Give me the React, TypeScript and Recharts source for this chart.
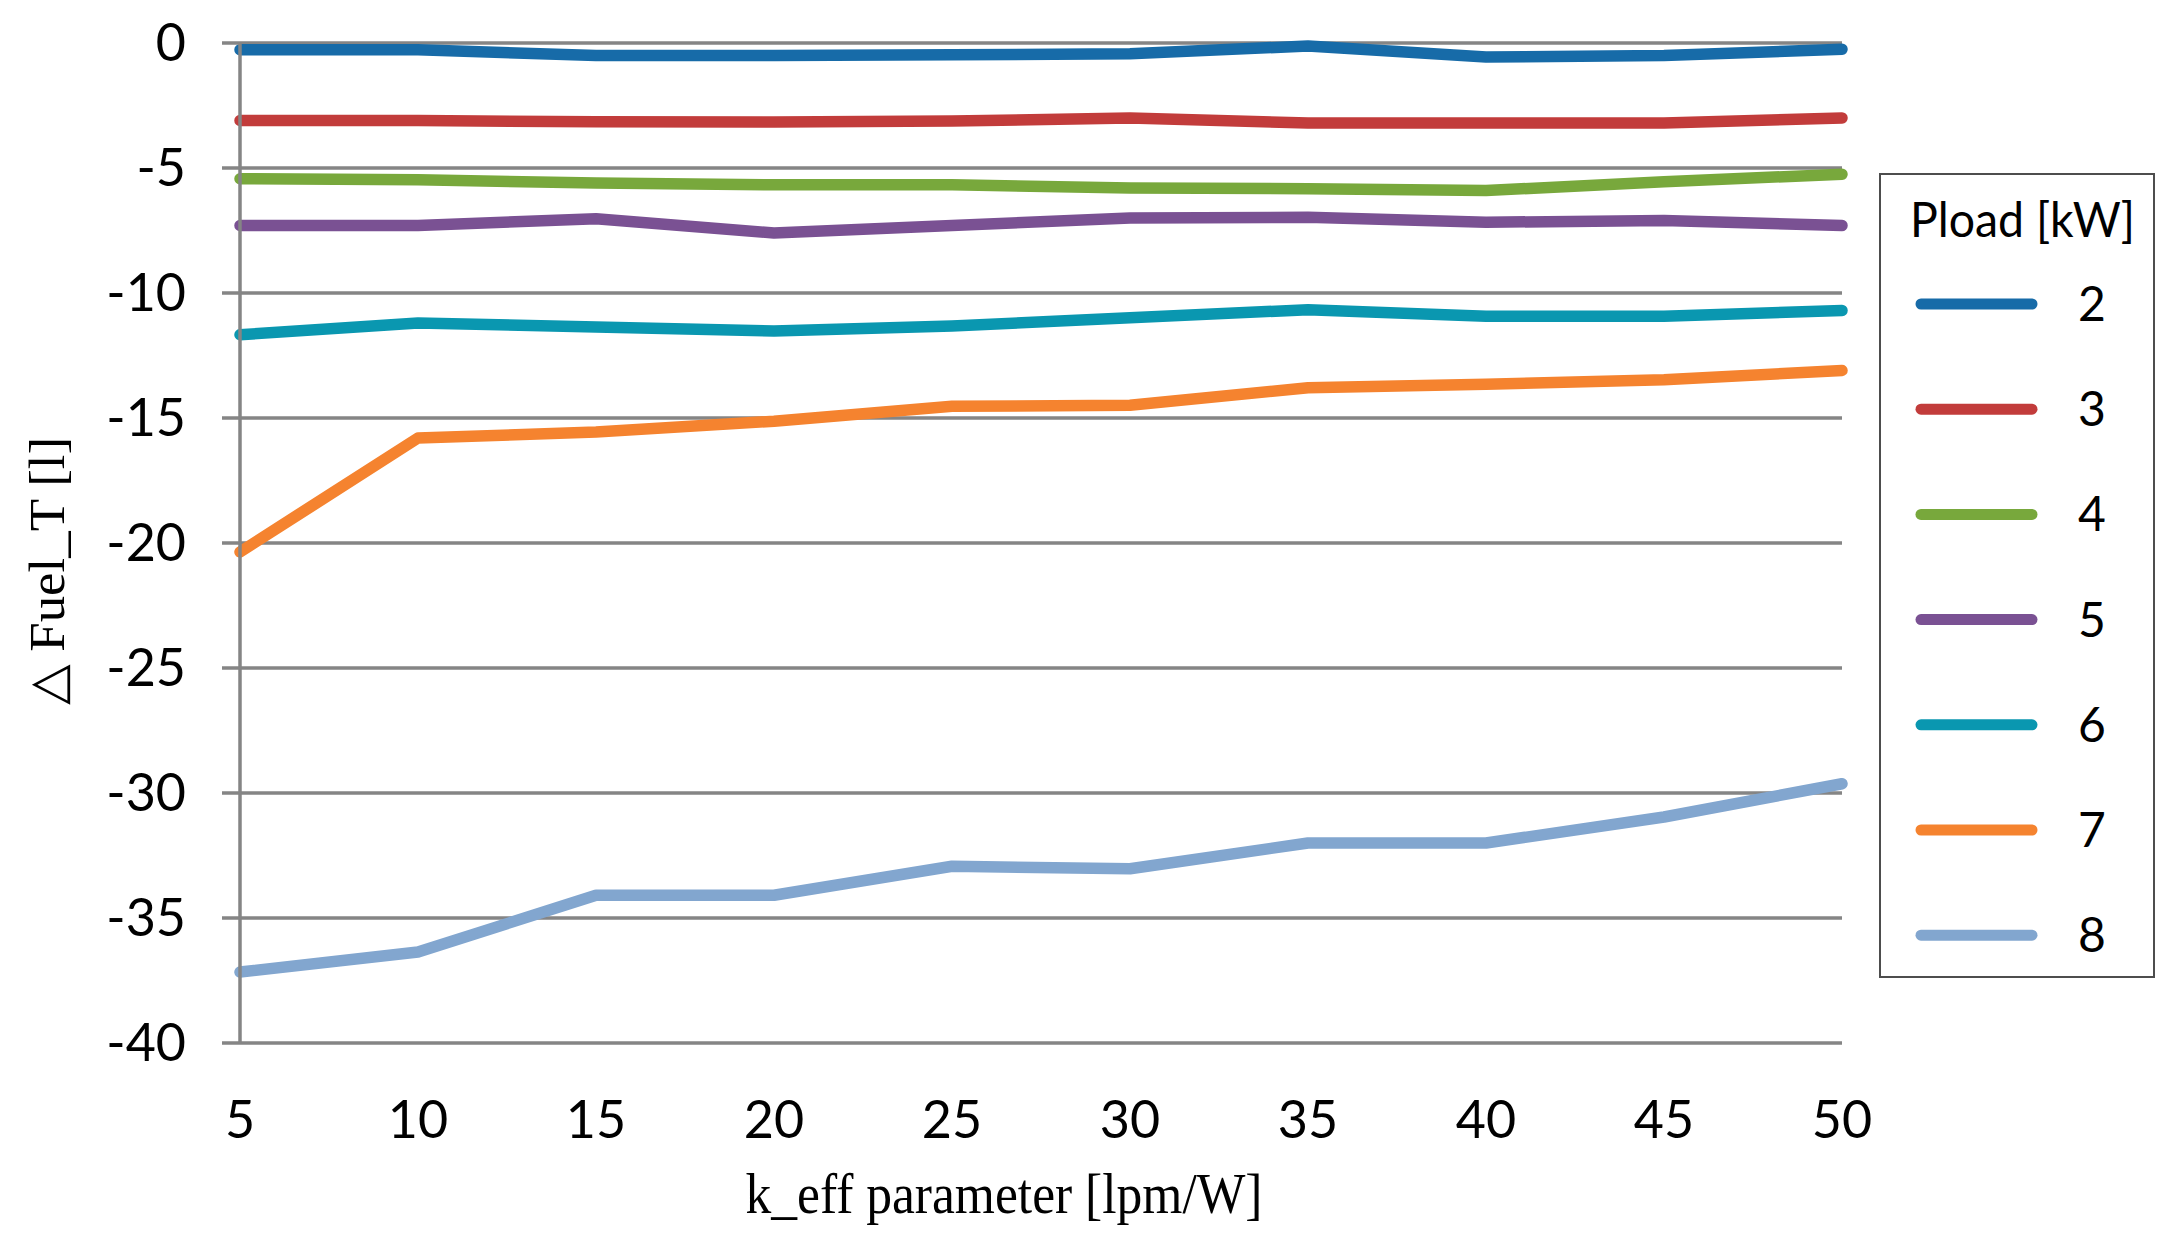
import React from 'react';
import { LineChart, Line, XAxis, YAxis, CartesianGrid, Legend, Label } from 'recharts';

const kValues = [5, 10, 15, 20, 25, 30, 35, 40, 45, 50];
const yTicks = [0, -5, -10, -15, -20, -25, -30, -35, -40];

const p2 = [-0.27, -0.27, -0.5, -0.5, -0.47, -0.43, -0.12, -0.56, -0.5, -0.25];
const p3 = [-3.1, -3.1, -3.15, -3.16, -3.12, -3.0, -3.2, -3.2, -3.2, -3.0];
const p4 = [-5.43, -5.47, -5.6, -5.67, -5.67, -5.8, -5.83, -5.9, -5.55, -5.25];
const p5 = [-7.3, -7.3, -7.03, -7.6, -7.3, -7.0, -6.97, -7.17, -7.1, -7.3];
const p6 = [-11.67, -11.2, -11.36, -11.52, -11.32, -10.99, -10.67, -10.93, -10.93, -10.7];
const p7 = [-20.36, -15.8, -15.56, -15.13, -14.53, -14.49, -13.79, -13.65, -13.47, -13.1];
const p8 = [-37.16, -36.36, -34.09, -34.09, -32.93, -33.03, -32.0, -32.0, -30.96, -29.63];

const seriesNames = ['2', '3', '4', '5', '6', '7', '8'];
const seriesValues = [p2, p3, p4, p5, p6, p7, p8];
const seriesColors = ['#176ba8', '#c23c3b', '#78a83c', '#7a5193', '#0a97b0', '#f5832f', '#82a6cf'];

const data = kValues.map((k, i) => {
  const row: Record<string, number> = { k };
  seriesNames.forEach((n, j) => {
    row['s' + n] = seriesValues[j][i];
  });
  return row;
});

const GRID = '#858585';
const SANS = 'Lato, "Open Sans", sans-serif';
const SERIF = '"Liberation Serif", "Times New Roman", serif';

const XTick = (props: any) => {
  const { x, y, payload } = props;
  return (
    <text x={x} y={y + 95} textAnchor="middle" fontFamily={SANS} fontSize={52} fill="#000">
      {payload.value}
    </text>
  );
};

const YTick = (props: any) => {
  const { x, y, payload } = props;
  return (
    <text x={x} y={y + 18} textAnchor="end" fontFamily={SANS} fontSize={52} fill="#000">
      {payload.value}
    </text>
  );
};

const XTitle = (props: any) => {
  const vb = props.viewBox || {};
  const cx = vb.x + vb.width / 2 - 37;
  return (
    <text
      x={cx}
      y={1213}
      textAnchor="middle"
      fontFamily={SERIF}
      fontSize={57}
      fill="#000"
      textLength={517}
      lengthAdjust="spacingAndGlyphs"
    >
      k_eff parameter [lpm/W]
    </text>
  );
};

const YTitle = (props: any) => {
  const vb = props.viewBox || {};
  const cx = vb.x - 76;
  const cy = vb.y + vb.height / 2 + 28;
  return (
    <text
      x={cx}
      y={cy}
      transform={`rotate(-90, ${cx}, ${cy})`}
      textAnchor="middle"
      fontFamily={SERIF}
      fontSize={50}
      fill="#000"
      textLength={268}
      lengthAdjust="spacingAndGlyphs"
    >
      △ Fuel_T [l]
    </text>
  );
};

const LegendBox = (props: any) => {
  const payload = [...(props.payload || [])].sort((a: any, b: any) => Number(a.value) - Number(b.value));
  return (
    <svg width={276} height={805} style={{ display: 'block' }}>
      <rect x={1} y={1} width={274} height={803} fill="#fff" stroke="#4d4d4d" strokeWidth={2} />
      <text
        x={31}
        y={64}
        fontFamily={SANS}
        fontSize={48}
        fill="#000"
        textLength={225}
        lengthAdjust="spacingAndGlyphs"
      >
        Pload [kW]
      </text>
      {payload.map((entry: any, i: number) => {
        const cy = 131 + i * 105.2;
        return (
          <g key={entry.value}>
            <line x1={42} x2={153} y1={cy} y2={cy} stroke={entry.color} strokeWidth={11} strokeLinecap="round" />
            <text x={213} y={cy + 17} textAnchor="middle" fontFamily={SANS} fontSize={48} fill="#000">
              {entry.value}
            </text>
          </g>
        );
      })}
    </svg>
  );
};

export default function App() {
  return (
    <div style={{ position: 'absolute', left: 0, top: 0, width: 2184, height: 1246, background: '#fff' }}>
      <LineChart
        width={2184}
        height={1246}
        data={data}
        margin={{ top: 43, right: 342, bottom: 103, left: 140 }}
      >
        <CartesianGrid vertical={false} stroke={GRID} strokeWidth={3.5} />
        <XAxis
          dataKey="k"
          type="number"
          domain={[5, 50]}
          ticks={kValues}
          height={100}
          axisLine={false}
          tickLine={false}
          tickSize={0}
          tickMargin={0}
          tick={<XTick />}
          interval={0}
        >
          <Label content={<XTitle />} />
        </XAxis>
        <XAxis
          xAxisId="top"
          orientation="top"
          type="number"
          domain={[5, 50]}
          ticks={kValues}
          height={0}
          mirror
          axisLine={false}
          tick={false}
          tickLine={{ stroke: GRID, strokeWidth: 3 }}
          tickSize={17}
          interval={0}
        />
        <YAxis
          type="number"
          domain={[-40, 0]}
          ticks={yTicks}
          width={100}
          axisLine={{ stroke: GRID, strokeWidth: 3.5 }}
          tickLine={{ stroke: GRID, strokeWidth: 3.5 }}
          tickSize={18}
          tickMargin={36}
          tick={<YTick />}
          interval={0}
        >
          <Label content={<YTitle />} />
        </YAxis>
        <Legend
          layout="vertical"
          align="center"
          verticalAlign="middle"
          content={<LegendBox />}
          wrapperStyle={{ left: 1879, top: 173, width: 276, height: 805 }}
        />
        {seriesNames.map((n, j) => (
          <Line
            key={n}
            dataKey={'s' + n}
            name={n}
            type="linear"
            stroke={seriesColors[j]}
            strokeWidth={11.5}
            strokeLinecap="round"
            strokeLinejoin="round"
            dot={false}
            activeDot={false}
            isAnimationActive={false}
          />
        ))}
      </LineChart>
    </div>
  );
}
